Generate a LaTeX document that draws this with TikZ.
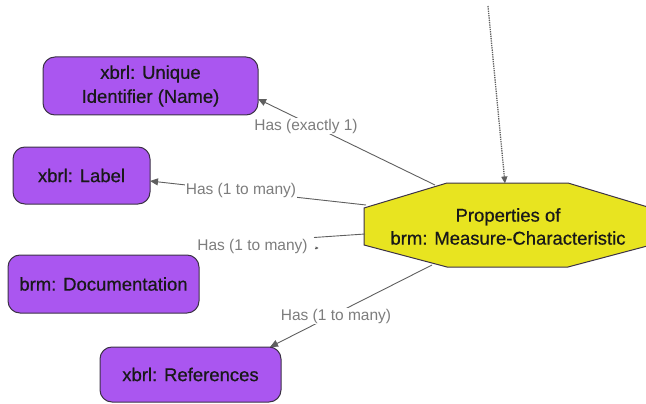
\documentclass[tikz,border=0pt]{standalone}
\usepackage{fontspec}
\setmainfont{Liberation Sans}
\newfontfamily\boxfont{Liberation Sans}[FakeBold=0.6]
\usetikzlibrary{arrows.meta}
\definecolor{boxfill}{RGB}{170,86,240}
\definecolor{boxline}{RGB}{60,50,70}
\definecolor{octfill}{RGB}{232,228,32}
\definecolor{edgegray}{RGB}{95,95,95}
\definecolor{labelgray}{RGB}{125,125,125}
\begin{document}
\begin{tikzpicture}[x=1pt,y=-1pt,
  entity/.style={draw=boxline, fill=boxfill, rounded corners=12pt, line width=1pt,
    font=\boxfont\fontsize{18.5}{24}\selectfont, align=center, inner sep=0pt, text=black!90},
  rel/.style={draw=edgegray, line width=0.9pt, -{Triangle[length=8pt,width=7pt]}},
  rellabel/.style={fill=white, text=labelgray, font=\fontsize{15.5}{17}\selectfont, inner sep=1pt}]
  \useasboundingbox (0,0) rectangle (646,404);

  % property entities
  \node[entity, minimum width=215pt, minimum height=58pt] (uid) at (150.5,86) {xbrl: Unique\\Identifier (Name)};
  \node[entity, minimum width=137pt, minimum height=57pt] (lbl) at (81.5,175.5) {xbrl: Label};
  \node[entity, minimum width=191pt, minimum height=58pt] (doc) at (103.5,284) {brm: Documentation};
  \node[entity, minimum width=181pt, minimum height=55pt] (ref) at (190.5,374.5) {xbrl: References};

  % central octagon
  \coordinate (o1) at (447,183);
  \coordinate (o2) at (568,183);
  \coordinate (o3) at (651,208);
  \coordinate (o4) at (651,245);
  \coordinate (o5) at (568,267);
  \coordinate (o6) at (447,267);
  \coordinate (o7) at (364,245);
  \coordinate (o8) at (364,208);
  \draw[draw=boxline, fill=octfill, line width=1pt] (o1) -- (o2) -- (o3) -- (o4) -- (o5) -- (o6) -- (o7) -- (o8) -- cycle;
  \node[font=\boxfont\fontsize{18.5}{23}\selectfont, align=center, text=black!90] (prop) at (508,226.5) {Properties of\\brm: Measure-Characteristic};

  % attachment points on the octagon border
  \coordinate (pUid) at (435,185);
  \coordinate (pLbl) at (366,205);
  \coordinate (pDoc) at (365,234);
  \coordinate (pRef) at (432,265);
  \coordinate (pTop) at (505,183.5);

  % arrow ends on the entities
  \coordinate (tUid) at (258,99);
  \coordinate (tLbl) at (150,181);
  \coordinate (tRef) at (270,347);

  % incoming dotted link from above
  \coordinate (src) at (488,6);
  \draw[draw=edgegray, densely dotted, line width=1.3pt, -{Triangle[length=7pt,width=6pt]}] (src) -- (pTop);

  % relations
  \draw[rel] (pUid) -- (tUid);
  \node[rellabel] (lUid) at (306,126) {Has (exactly 1)};
  \draw[rel] (pLbl) -- (tLbl);
  \node[rellabel] (lLbl) at (241,190) {Has (1 to many)};
  \coordinate (docEnd) at (314,237.5);
  \draw[draw=edgegray, line width=0.9pt] (pDoc) -- (docEnd);
  \node[rellabel] (lDoc) at (252.5,246) {Has (1 to many)};
  \coordinate (tipA) at (314.5,248);
  \coordinate (tipB) at (318.5,248);
  \draw[draw=edgegray, line width=0.5pt, -{Triangle[length=3pt,width=3pt]}] (tipA) -- (tipB);
  \draw[rel] (pRef) -- (tRef);
  \node[rellabel] (lRef) at (336,316) {Has (1 to many)};
\end{tikzpicture}
\end{document}
